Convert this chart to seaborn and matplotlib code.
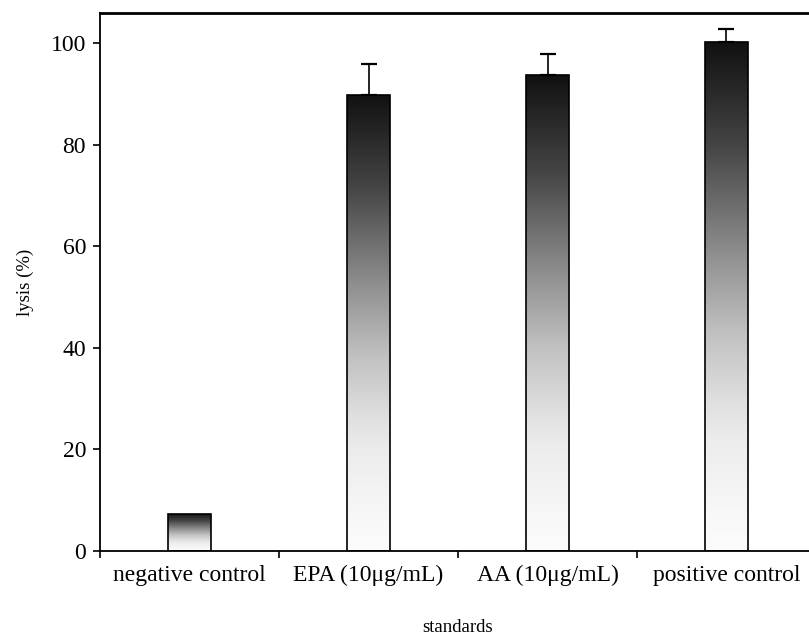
import numpy as np
import pandas as pd
import matplotlib
matplotlib.use("Agg")
import matplotlib.pyplot as plt
import seaborn as sns
from matplotlib.colors import LinearSegmentedColormap

categories = ["negative control", "EPA (10μg/mL)", "AA (10μg/mL)", "positive control"]
lysis = [7.3, 89.8, 93.6, 100.1]
err_up = [0.0, 6.1, 4.3, 2.7]

sns.set_theme(style="white")
plt.rcParams['font.family'] = ['Liberation Serif', 'DejaVu Serif']

fig = plt.figure(figsize=(8.09, 6.37), dpi=100)
W, H = 809, 637
left, right, top, bottom = 100, 816, 13, 551
ax = fig.add_axes([left / W, 1 - bottom / H, (right - left) / W, (bottom - top) / H])

df = pd.DataFrame({"standards": categories, "lysis": lysis})
sns.barplot(data=df, x="standards", y="lysis", ax=ax, width=0.235,
            color="white", edgecolor="black", linewidth=1.2, errorbar=None, zorder=2)

cmap = LinearSegmentedColormap.from_list("g", [
    (0.0, "#fcfcfc"), (0.07, "#f8f8f8"), (0.22, "#ececec"), (0.29, "#e0e0e0"),
    (0.43, "#c0c0c0"), (0.58, "#909090"), (0.8, "#444444"), (1.0, "#111111")])
grad = np.linspace(0, 1, 256).reshape(-1, 1)
for p in list(ax.patches):
    x0, y0 = p.get_x(), p.get_y()
    w, h = p.get_width(), p.get_height()
    im = ax.imshow(grad, extent=[x0, x0 + w, y0, y0 + h], origin="lower",
                   cmap=cmap, aspect="auto", zorder=1.5)
    im.set_clip_path(p)
    p.set_facecolor("none")
    p.set_zorder(2.5)
ax.set_xlim(-0.5, 3.5)
ax.set_ylim(0, 105.9)

xs = np.arange(len(categories))
for i in range(len(categories)):
    if err_up[i] > 0:
        ax.errorbar(xs[i], lysis[i], yerr=[[0], [err_up[i]]], fmt="none",
                    ecolor="black", elinewidth=1.2, capsize=5.5, capthick=1.6, zorder=3)

ax.set_yticks([0, 20, 40, 60, 80, 100])
ax.set_xticks(xs)
ax.set_xticklabels(categories)
ax.set_xticks(np.arange(-0.5, 4.0, 1.0), minor=True)
ax.tick_params(axis="x", which="major", length=0, labelsize=17, pad=10, colors="black")
ax.tick_params(axis="x", which="minor", length=5, width=1.2, direction="out", bottom=True, color="black")
ax.tick_params(axis="y", which="major", length=5, width=1.2, direction="out", left=True,
               labelsize=17, colors="black", pad=5)

for s in ["left", "bottom"]:
    ax.spines[s].set_linewidth(1.3)
    ax.spines[s].set_color("black")
ax.spines["top"].set_linewidth(2.0)
ax.spines["top"].set_color("black")
ax.spines["right"].set_visible(False)

ax.set_ylabel("lysis (%)", fontsize=13.5, labelpad=12, color="black")
ax.set_xlabel("standards", fontsize=13.5, labelpad=24, color="black")

fig.savefig("out.png", dpi=100)
